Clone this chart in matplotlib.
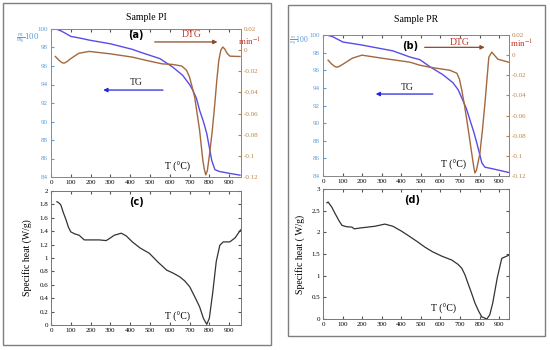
import numpy as np
import matplotlib
matplotlib.use('Agg')
import matplotlib.pyplot as plt
from matplotlib.patches import Rectangle
from matplotlib.ticker import FuncFormatter

plt.rcParams['font.family'] = ['Liberation Serif', 'DejaVu Serif']
plt.rcParams['mathtext.fontset'] = 'stix'

# ---- data ----
# Sample PI : TG (%), DTG (1/min)
tg_pi_T = [25, 50, 76, 100, 150, 193, 300, 411, 450, 550, 614, 665, 700, 716, 735, 751, 770, 787, 800, 812, 828, 850, 900, 955]
tg_pi = [100, 99.8, 99.5, 99.2, 99.0, 98.8, 98.4, 97.8, 97.5, 96.8, 95.9, 95.0, 94.0, 93.4, 92.5, 91.2, 90.0, 88.7, 87.2,
         85.8, 84.8, 84.6, 84.4, 84.2]
dtg_pi_T = [22, 40, 55, 66, 80, 100, 140, 193, 300, 411, 500, 563, 614, 660, 685, 700, 712, 726, 740, 751, 767, 775, 782, 790,
            802, 815, 828, 838, 848, 858, 868, 878, 890, 904, 955]
dtg_pi = [-0.0060, -0.0095, -0.0118, -0.0123, -0.0110, -0.0080, -0.0030, -0.0012, -0.0035, -0.0066, -0.0105, -0.0130,
          -0.0135, -0.0150, -0.0190, -0.0256, -0.0340, -0.0445, -0.0620, -0.0760, -0.1040, -0.1130, -0.1180, -0.1140,
          -0.0970, -0.0760, -0.0500, -0.0280, -0.0095, 0.0000, 0.0030, 0.0010, -0.0030, -0.0057, -0.0060]

# Sample PR
tg_pr_T = [20, 50, 102, 189, 357, 444, 495, 546, 612, 663, 690, 714, 733, 750, 770, 786, 800, 811, 827, 870, 948]
tg_pr = [100, 99.8, 99.2, 98.9, 98.2, 97.5, 97.2, 96.4, 95.5, 94.6, 93.8, 92.6, 91.6, 90.4, 89.0, 87.7, 86.5, 85.5, 85.0,
         84.8, 84.4]
dtg_pr_T = [26, 45, 60, 71, 85, 110, 150, 199, 300, 444, 495, 546, 648, 684, 697, 709, 722, 735, 748, 760, 770, 776, 784, 801,
            814, 827, 847, 862, 875, 893, 948]
dtg_pr = [-0.0050, -0.0090, -0.0112, -0.0120, -0.0110, -0.0080, -0.0030, 0.0000, -0.0030, -0.0070, -0.0100, -0.0120,
          -0.0150, -0.0180, -0.0240, -0.0350, -0.0490, -0.0650, -0.0820, -0.0980, -0.1110, -0.1170, -0.1140, -0.0980,
          -0.0750, -0.0480, -0.0020, 0.0030, 0.0000, -0.0040, -0.0070]

# specific heat (W/g)
cp_pi_T = [30, 41, 50, 62, 76, 88, 100, 120, 142, 168, 200, 244, 279, 300, 320, 355, 380, 411, 450, 497, 540, 584, 620, 650,
           675, 701, 730, 751, 770, 787, 800, 817, 835, 853, 870, 903, 930, 958]
cp_pi = [1.84, 1.82, 1.79, 1.68, 1.57, 1.46, 1.39, 1.36, 1.34, 1.27, 1.27, 1.27, 1.26, 1.30, 1.34, 1.37, 1.33, 1.24, 1.15,
         1.07, 0.94, 0.82, 0.77, 0.72, 0.66, 0.57, 0.40, 0.27, 0.10, 0.01, 0.10, 0.48, 0.95, 1.19, 1.24, 1.24, 1.30, 1.42]
cp_pr_T = [20, 26, 45, 61, 80, 97, 120, 148, 160, 189, 265, 316, 357, 400, 434, 480, 520, 560, 607, 658, 690, 709, 725, 740,
           760, 776, 795, 811, 837, 852, 867, 890, 913, 948]
cp_pr = [2.68, 2.70, 2.58, 2.44, 2.28, 2.16, 2.13, 2.12, 2.08, 2.10, 2.14, 2.19, 2.14, 2.03, 1.93, 1.79, 1.66, 1.55, 1.45,
         1.36, 1.26, 1.17, 1.02, 0.83, 0.58, 0.37, 0.18, 0.05, 0.0, 0.10, 0.37, 0.95, 1.40, 1.47]

x_ticks = [0, 100, 200, 300, 400, 500, 600, 700, 800, 900]
tg_ticks = [84, 86, 88, 90, 92, 94, 96, 98, 100]
dtg_ticks = [-0.12, -0.1, -0.08, -0.06, -0.04, -0.02, 0, 0.02]

W, H = 550, 350
TGC = '#5a4be6'
DTGC = '#a3683d'
LBLUE = '#5b9bd5'
LBROWN = '#b98446'
RED = '#c0392b'

fig = plt.figure(figsize=(W / 100, H / 100), dpi=100)


def px_axes(l, t, r, b):
    return fig.add_axes([l / W, 1 - b / H, (r - l) / W, (b - t) / H])


def gfmt(v, pos):
    return '%g' % v


def box(l, t, r, b):
    fig.patches.append(Rectangle((l / W, 1 - b / H), (r - l) / W, (b - t) / H, transform=fig.transFigure,
                                 fill=False, edgecolor='#7f7f7f', lw=1.0))


box(3, 3, 271, 345)
box(288, 5, 545, 336)


def tg_panel(l, t, r, b, xmax, T1, y1, T2, y2, tag, dtg_txt, dtg_arrow, tg_txt, tg_arrow, lab_xy, min_xy, tt_xy, title, title_y):
    ax = px_axes(l, t, r, b)
    ax2 = ax.twinx()
    ax.plot(T1, y1, color=TGC, lw=1.0)
    ax2.plot(T2, y2, color=DTGC, lw=1.0)
    ax.set_xlim(0, xmax)
    ax.set_ylim(84, 100)
    ax2.set_ylim(-0.12, 0.02)
    ax.set_xticks(x_ticks)
    ax.set_yticks(tg_ticks)
    ax2.set_yticks(dtg_ticks)
    ax2.yaxis.set_major_formatter(FuncFormatter(gfmt))
    ax.tick_params(axis='x', direction='in', length=2, labelsize=5, pad=2, top=True, color='#555555')
    ax.tick_params(axis='y', direction='in', length=2, labelsize=5, pad=2, colors=LBLUE)
    ax2.tick_params(axis='y', direction='in', length=2, labelsize=5, pad=2, colors=LBROWN)
    ax.spines['left'].set_color(LBLUE)
    ax2.spines['left'].set_color(LBLUE)
    ax2.spines['right'].set_color(LBROWN)
    for a in (ax, ax2):
        a.spines['top'].set_color('#888888')
        a.spines['bottom'].set_color('#888888')
        for s in a.spines.values():
            s.set_linewidth(0.7)
    ax.text(tag[0], tag[1], tag[2], fontsize=7, fontweight='bold', family='DejaVu Sans', ha='center', va='center')
    ax.text(dtg_txt[0], dtg_txt[1], 'DTG', color=RED, fontsize=7, ha='center', va='center')
    ax.annotate('', xy=(dtg_arrow[1], dtg_arrow[2]), xytext=(dtg_arrow[0], dtg_arrow[2]),
                arrowprops=dict(arrowstyle='-|>', color='#8b4a2b', lw=0.9, mutation_scale=6))
    ax.text(tg_txt[0], tg_txt[1], 'TG', color='#222222', fontsize=7, ha='center', va='center')
    ax.annotate('', xy=(tg_arrow[1], tg_arrow[2]), xytext=(tg_arrow[0], tg_arrow[2]),
                arrowprops=dict(arrowstyle='-|>', color='#2626d9', lw=0.9, mutation_scale=6))
    fig.text(lab_xy[0] / W, 1 - lab_xy[1] / H, r'$\frac{m}{m_0}$100', color=LBLUE, fontsize=lab_xy[2],
             ha='center', va='center')
    fig.text(min_xy[0] / W, 1 - min_xy[1] / H, r'min$^{-1}$', color=RED, fontsize=6.5, ha='center', va='center')
    ax.text(tt_xy[0], tt_xy[1], 'T (°C)', fontsize=7, ha='center', va='center')
    fig.text((l + r) / 2 / W, 1 - title_y / H, title, fontsize=7, ha='center', va='center')
    return ax


def cp_panel(l, t, r, b, xmax, T, y, ymax, yticks, ylabel, tag, tt_xy):
    ax = px_axes(l, t, r, b)
    ax.plot(T, y, color='#333333', lw=0.9)
    ax.set_xlim(0, xmax)
    ax.set_ylim(0, ymax)
    ax.set_xticks(x_ticks)
    ax.set_yticks(yticks)
    ax.yaxis.set_major_formatter(FuncFormatter(gfmt))
    ax.tick_params(direction='in', length=2, labelsize=5, pad=2, top=True, right=True, color='#555555')
    for s in ax.spines.values():
        s.set_linewidth(0.7)
        s.set_color('#777777')
    ax.set_ylabel(ylabel, fontsize=7, labelpad=5)
    ax.text(tag[0], tag[1], tag[2], fontsize=7, fontweight='bold', family='DejaVu Sans', ha='center', va='center')
    ax.text(tt_xy[0], tt_xy[1], 'T (°C)', fontsize=7, ha='center', va='center')
    return ax


# (a) Sample PI
tg_panel(51, 29, 241, 177, 960, tg_pi_T, tg_pi, dtg_pi_T, dtg_pi,
         (430, 99.3, '(a)'), (710, 99.4), (510, 855, 98.6), (430, 94.2), (580, 250, 93.4),
         (28, 38, 6.5), (250, 42), (640, 85.1), 'Sample PI', 17)
# (b) Sample PR
tg_panel(323, 35, 509, 176, 950, tg_pr_T, tg_pr, dtg_pr_T, dtg_pr,
         (445, 98.8, '(b)'), (700, 99.2), (505, 840, 98.6), (430, 94.0), (575, 255, 93.3),
         (299, 41, 5.5), (522, 44), (665, 85.2), 'Sample PR', 20)
# (c), (d) specific heat
cp_panel(51, 191, 241, 325, 960, cp_pi_T, cp_pi, 2, [0, 0.2, 0.4, 0.6, 0.8, 1, 1.2, 1.4, 1.6, 1.8, 2],
         'Specific heat (W/g)', (430, 1.83, '(c)'), (640, 0.12))
cp_panel(323, 189, 509, 319, 950, cp_pr_T, cp_pr, 3, [0, 0.5, 1, 1.5, 2, 2.5, 3],
         'Specific heat ( W/g)', (455, 2.75, '(d)'), (615, 0.22))

fig.savefig('out.png', dpi=100)
